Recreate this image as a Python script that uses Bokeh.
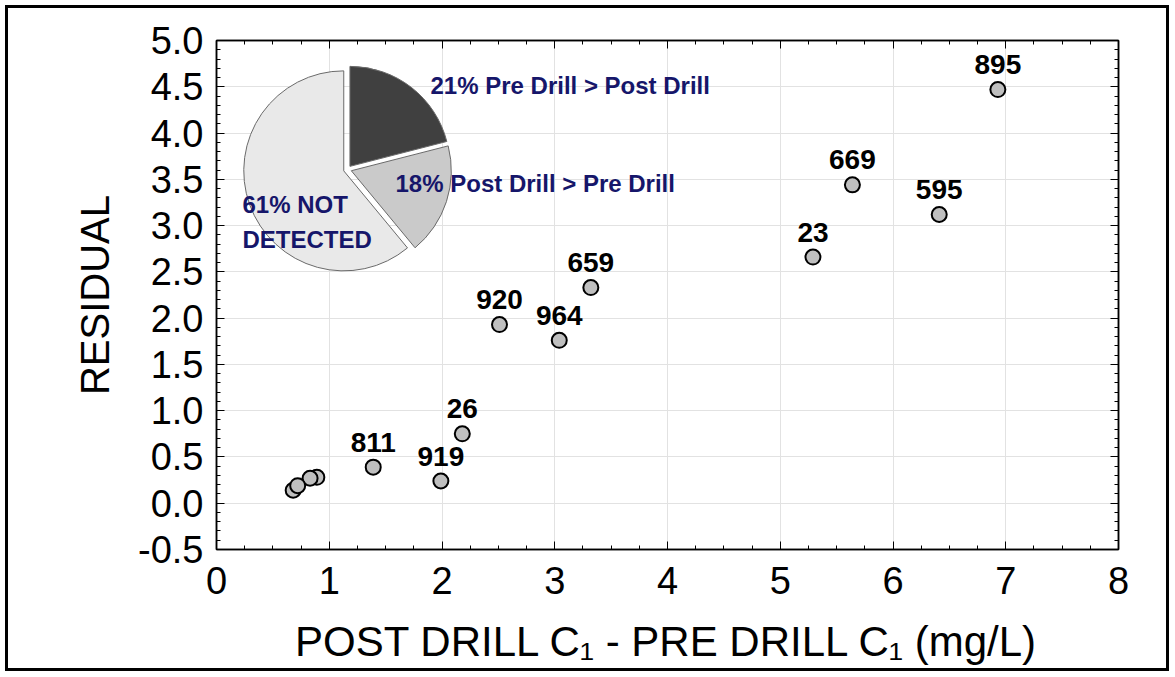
import math
from bokeh.plotting import figure
from bokeh.models import ColumnDataSource, LinearAxis, Range1d, FixedTicker, NumeralTickFormatter, Label
from bokeh.embed import file_html
from bokeh.resources import INLINE
from bokeh.core.properties import value

# ---------------- data ----------------
well_ids = ["", "", "", "", "919", "811", "26", "920", "964", "659", "23", "669", "595", "895"]
diff_c1 = [0.89, 0.83, 0.68, 0.72, 1.99, 1.39, 2.18, 2.51, 3.04, 3.32, 5.29, 5.64, 6.41, 6.93]
residual = [0.28, 0.27, 0.14, 0.19, 0.24, 0.39, 0.75, 1.93, 1.76, 2.33, 2.66, 3.44, 3.12, 4.47]

pie_labels = ["21% Pre Drill > Post Drill", "18% Post Drill > Pre Drill", "61% NOT\nDETECTED"]
pie_pct = [21, 18, 61]
pie_colors = ["#404040", "#cacaca", "#e9e9e9"]

x_ticks = [0, 1, 2, 3, 4, 5, 6, 7, 8]
y_ticks = [-0.5, 0.0, 0.5, 1.0, 1.5, 2.0, 2.5, 3.0, 3.5, 4.0, 4.5, 5.0]

# ---------------- layout ----------------
W, H = 1164, 666
FL, FT = 208, 32
FW, FH = 902, 509
FR, FB = W - FL - FW, H - FT - FH
x0, x1 = 0, 8
y0, y1 = -0.5, 5.0
sx = FW / (x1 - x0)
sy = FH / (y1 - y0)

FONT = "Liberation Sans"

p = figure(width=W, height=H, output_backend="svg", toolbar_location=None,
           x_range=Range1d(x0, x1), y_range=Range1d(y0, y1),
           min_border_left=FL, min_border_top=FT, min_border_right=FR, min_border_bottom=FB,
           x_axis_location=None, y_axis_location=None)
p.styles = {"border": "3px solid black", "margin": "5px 0px 0px 5px"}
p.outline_line_color = "black"
p.outline_line_width = 1.5
p.background_fill_color = "white"
p.border_fill_color = "white"

xt = FixedTicker(ticks=x_ticks, minor_ticks=[i * 0.25 for i in range(0, 33)])
yt = FixedTicker(ticks=y_ticks, minor_ticks=[-0.5 + i * 0.1 for i in range(0, 56)])


def style_axis(ax, labels=True):
    ax.axis_line_color = "black"
    ax.axis_line_width = 1.5
    ax.major_tick_in = 8
    ax.major_tick_out = 0
    ax.minor_tick_in = 4
    ax.minor_tick_out = 0
    ax.major_tick_line_color = "black"
    ax.minor_tick_line_color = "black"
    ax.major_tick_line_width = 1
    if labels:
        ax.major_label_text_font = FONT
        ax.major_label_text_font_size = "38px"
        ax.major_label_text_color = "black"
        ax.axis_label_text_font = FONT
        ax.axis_label_text_font_size = "42px"
        ax.axis_label_text_font_style = "normal"
        ax.axis_label_text_color = "black"
    else:
        ax.major_label_text_font_size = "0px"
        ax.major_label_standoff = 0


xb = LinearAxis(ticker=xt, axis_label="POST DRILL C\u2081 - PRE DRILL C\u2081 (mg/L)")
style_axis(xb)
xb.major_label_standoff = 17
xb.axis_label_standoff = 21
p.add_layout(xb, "below")

yl = LinearAxis(ticker=yt, axis_label="RESIDUAL", formatter=NumeralTickFormatter(format="0.0"))
style_axis(yl)
yl.axis_label_text_font_size = "40px"
yl.major_label_standoff = 13
yl.axis_label_standoff = 18
p.add_layout(yl, "left")

xa = LinearAxis(ticker=xt)
style_axis(xa, labels=False)
p.add_layout(xa, "above")
yr = LinearAxis(ticker=yt)
style_axis(yr, labels=False)
p.add_layout(yr, "right")

p.xgrid.ticker = xt
p.ygrid.ticker = yt
p.xgrid.grid_line_color = "#e2e2e2"
p.ygrid.grid_line_color = "#e2e2e2"
p.xgrid.grid_line_width = 1
p.ygrid.grid_line_width = 1

# ---------------- pie ----------------
pie_cx, pie_cy = 1.162, 3.606   # pie centre (data units)
pie_r = 100                     # px
explode = 4                     # px
starts, ends, px_, py_ = [], [], [], []
a = 90.0
for pct in pie_pct:
    span = pct / 100 * 360
    end = a
    start = a - span
    mid = math.radians((start + end) / 2)
    starts.append(math.radians(start))
    ends.append(math.radians(end))
    px_.append(pie_cx + explode * math.cos(mid) / sx)
    py_.append(pie_cy + explode * math.sin(mid) / sy)
    a = start

pie_src = ColumnDataSource(dict(x=px_, y=py_, s=starts, e=ends, c=pie_colors))
p.wedge(x="x", y="y", radius=pie_r, radius_units="screen", start_angle="s", end_angle="e",
        fill_color="c", line_color="#6a6a6a", line_width=1, source=pie_src)

# pie labels (pixel offsets from pie centre, up = positive)
navy = "#16166a"
label_offsets = [(83, 84), (48, -14), (-105, -35)]
for text, (dx, dy) in zip(pie_labels, label_offsets):
    lines = text.split("\n")
    for k, ln in enumerate(lines):
        p.add_layout(Label(x=pie_cx + dx / sx, y=pie_cy + (dy - 35 * k) / sy, text=ln,
                           text_font=FONT, text_font_size="24px", text_font_style="bold",
                           text_color=navy, text_align="left", text_baseline="middle"))

# ---------------- points ----------------
src = ColumnDataSource(dict(x=diff_c1, y=residual, t=well_ids))
p.scatter(x="x", y="y", size=15, fill_color="#bfbfbf", line_color="black", line_width=2, source=src)
p.text(x="x", y="y", text="t", y_offset=-25, text_align="center", text_baseline="middle",
       text_font=value(FONT), text_font_size="28px", text_font_style="bold", text_color="black",
       source=src)

open("out.html", "w").write(file_html(p, INLINE))
